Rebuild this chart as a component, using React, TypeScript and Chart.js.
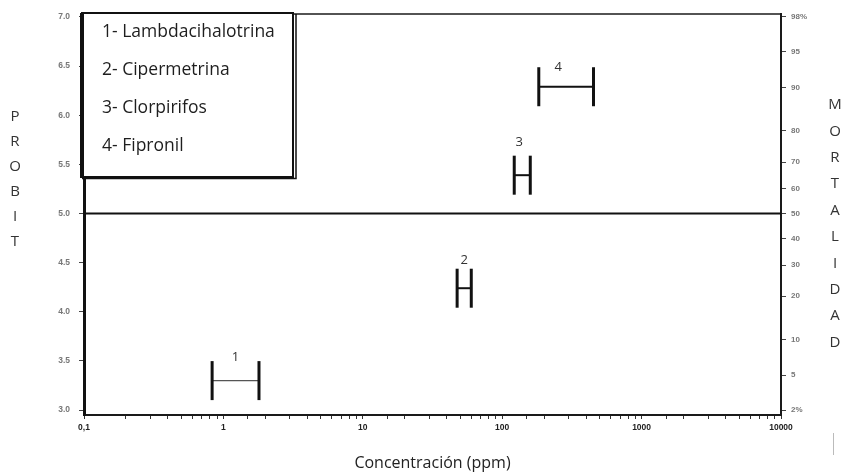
import React, { useEffect, useRef } from 'react';
import { Chart, registerables } from 'chart.js';

Chart.register(...registerables);

// ---- Data ----
const compoundIds = ['1', '2', '3', '4'];
const compoundNames = ['Lambdacihalotrina', 'Cipermetrina', 'Clorpirifos', 'Fipronil'];
const ciLow = [0.83, 47.5, 122, 183];
const ciHigh = [1.8, 60, 159, 452];
const probitValues = [3.3, 4.24, 5.39, 6.29];
const referenceProbit = 5.0;

const xMin = 0.1;
const xMax = 10000;
const xMajorTicks = [0.1, 1, 10, 100, 1000, 10000];
const xMajorLabels = ['0,1', '1', '10', '100', '1000', '10000'];

const probitMin = 2.95;
const probitMax = 7.03;
const probitTicks = [3.0, 3.5, 4.0, 4.5, 5.0, 5.5, 6.0, 6.5, 7.0];

const mortalityLabels = ['2%', '5', '10', '20', '30', '40', '50', '60', '70', '80', '90', '95', '98%'];
const mortalityProbits = [3.0, 3.355, 3.718, 4.158, 4.476, 4.747, 5.0, 5.253, 5.524, 5.842, 6.282, 6.645, 7.0];

const leftTitle = 'PROBIT';
const rightTitle = 'MORTALIDAD';
const xTitle = 'Concentración (ppm)';

// label placement styling (pixel nudges relative to each interval)
const labelNudgeX = [0, 0, -3, -8];
const labelNudgeY = [-23, -28, -33, -19];

const TEXT_FONT = '"Open Sans", "Noto Sans", sans-serif';
const TICK_FONT = '"Liberation Sans", Arial, sans-serif';

const decorPlugin = {
  id: 'decor',
  afterDraw(chart: any) {
    const { ctx, chartArea, scales } = chart;
    const xs = scales.x;
    const ys = scales.y;
    ctx.save();

    // top frame line
    ctx.strokeStyle = '#1a1a1a';
    ctx.lineWidth = 1.5;
    ctx.beginPath();
    ctx.moveTo(chartArea.left, chartArea.top);
    ctx.lineTo(chartArea.right, chartArea.top);
    ctx.stroke();

    // interval labels
    ctx.fillStyle = '#333';
    ctx.font = `13px ${TEXT_FONT}`;
    ctx.textAlign = 'center';
    ctx.textBaseline = 'middle';
    compoundIds.forEach((id, i) => {
      const xm = Math.sqrt(ciLow[i] * ciHigh[i]);
      const px = xs.getPixelForValue(xm);
      const py = ys.getPixelForValue(probitValues[i]);
      ctx.fillText(id, px + labelNudgeX[i], py + labelNudgeY[i]);
    });

    // legend box
    const bx = 82, by = 13, bw = 211, bh = 164;
    ctx.fillStyle = '#fff';
    ctx.fillRect(bx, by, bw, bh);
    ctx.strokeStyle = '#111';
    ctx.lineWidth = 2;
    ctx.strokeRect(bx, by, bw, bh);
    ctx.lineWidth = 4;
    ctx.beginPath();
    ctx.moveTo(bx, by);
    ctx.lineTo(bx, by + bh + 1);
    ctx.stroke();
    ctx.lineWidth = 1.5;
    ctx.beginPath();
    ctx.moveTo(bx + bw + 3, by + 1);
    ctx.lineTo(bx + bw + 3, by + bh + 1.5);
    ctx.lineTo(bx, by + bh + 1.5);
    ctx.stroke();
    ctx.fillStyle = '#1e1e1e';
    ctx.font = `17.5px ${TEXT_FONT}`;
    ctx.textAlign = 'left';
    ctx.textBaseline = 'middle';
    compoundNames.forEach((name, i) => {
      ctx.fillText(`${compoundIds[i]}- ${name}`, 102, 32 + i * 38);
    });

    // vertical stacked axis titles
    ctx.fillStyle = '#333';
    ctx.font = `15px ${TEXT_FONT}`;
    ctx.textAlign = 'center';
    leftTitle.split('').forEach((ch, i) => {
      ctx.fillText(ch, 15, 117 + i * 25);
    });
    rightTitle.split('').forEach((ch, i) => {
      ctx.fillText(ch, 835, 105 + i * 26.4);
    });

    // faint mark bottom right
    ctx.strokeStyle = '#bbb';
    ctx.lineWidth = 1;
    ctx.beginPath();
    ctx.moveTo(833.5, 433);
    ctx.lineTo(833.5, 455);
    ctx.stroke();

    ctx.restore();
  },
};

export default function App() {
  const ref = useRef<HTMLCanvasElement | null>(null);

  useEffect(() => {
    if (!ref.current) return;

    const intervalSets = compoundIds.map((id, i) => ({
      type: 'line' as const,
      label: `${id}- ${compoundNames[i]}`,
      data: [
        { x: ciLow[i], y: probitValues[i] },
        { x: ciHigh[i], y: probitValues[i] },
      ],
      borderColor: i === 0 ? '#555' : '#111',
      borderWidth: i === 0 ? 1.2 : 2,
      pointStyle: 'line',
      pointRotation: 90,
      pointRadius: 19.5,
      pointBorderWidth: 3,
      pointBorderColor: '#111',
      pointBackgroundColor: '#111',
      fill: false,
    }));

    const chart = new Chart(ref.current, {
      type: 'line',
      data: {
        datasets: [
          {
            type: 'line',
            label: 'ref',
            data: [
              { x: xMin, y: referenceProbit },
              { x: xMax, y: referenceProbit },
            ],
            borderColor: '#111',
            borderWidth: 2,
            pointRadius: 0,
          } as any,
          ...(intervalSets as any[]),
        ],
      },
      options: {
        responsive: false,
        animation: false,
        events: [],
        layout: { autoPadding: false, padding: { top: 14, bottom: 0, left: 0, right: 0 } },
        plugins: {
          legend: { display: false },
          tooltip: { enabled: false },
        },
        scales: {
          x: {
            type: 'logarithmic',
            min: xMin,
            max: xMax,
            afterFit: (s: any) => {
              s.height = 58;
              s.paddingLeft = 0;
              s.paddingRight = 0;
            },
            border: { display: true, color: '#1a1a1a', width: 2 },
            grid: { drawOnChartArea: false, drawTicks: true, tickLength: 4, color: '#333' },
            ticks: {
              autoSkip: false,
              maxRotation: 0,
              padding: 4,
              color: '#222',
              font: { family: TICK_FONT, size: 8.5, weight: 'bold' },
              callback: (v: any) => {
                const idx = xMajorTicks.findIndex((t) => Math.abs(t - Number(v)) / t < 1e-6);
                return idx >= 0 ? xMajorLabels[idx] : '';
              },
            },
            title: {
              display: true,
              text: xTitle,
              color: '#222',
              padding: { top: 4, bottom: 0 },
              font: { family: TEXT_FONT, size: 16 },
            },
          },
          y: {
            type: 'linear',
            position: 'left',
            min: probitMin,
            max: probitMax,
            afterFit: (s: any) => {
              s.width = 84;
              s.paddingTop = 0;
              s.paddingBottom = 0;
            },
            afterBuildTicks: (s: any) => {
              s.ticks = probitTicks.map((v) => ({ value: v }));
            },
            border: { display: true, color: '#111', width: 3 },
            grid: { drawOnChartArea: false, drawTicks: true, tickLength: 5, color: '#444' },
            ticks: {
              padding: 9,
              color: '#777',
              font: { family: TICK_FONT, size: 8.5, weight: 'bold' },
              callback: (v: any) => Number(v).toFixed(1),
            },
          },
          y1: {
            type: 'linear',
            position: 'right',
            min: probitMin,
            max: probitMax,
            afterFit: (s: any) => {
              s.width = 66;
              s.paddingTop = 0;
              s.paddingBottom = 0;
            },
            afterBuildTicks: (s: any) => {
              s.ticks = mortalityProbits.map((v) => ({ value: v }));
            },
            border: { display: true, color: '#1a1a1a', width: 2 },
            grid: { drawOnChartArea: false, drawTicks: true, tickLength: 5, color: '#444' },
            ticks: {
              padding: 5,
              color: '#777',
              font: { family: TICK_FONT, size: 8, weight: 'bold' },
              callback: (_v: any, i: number) => mortalityLabels[i],
            },
          },
        },
      } as any,
      plugins: [decorPlugin],
    });

    return () => chart.destroy();
  }, []);

  return (
    <div style={{ position: 'absolute', left: 0, top: 0, width: 847, height: 473, background: '#fff' }}>
      <canvas ref={ref} width={847} height={473} />
    </div>
  );
}
